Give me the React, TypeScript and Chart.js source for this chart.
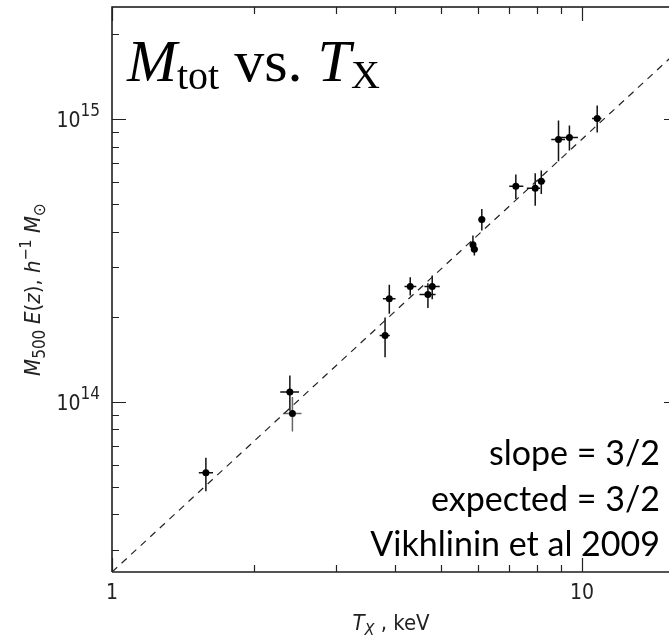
import React, { useEffect, useRef } from "react";
import { Chart, registerables } from "chart.js";

Chart.register(...registerables);

// Cluster temperatures (keV) and masses M500 E(z) (h^-1 Msun)
const tempKeV = [1.584, 2.39, 2.42, 3.81, 3.89, 4.31, 4.7, 4.8, 5.86, 5.9, 6.12, 7.23, 7.95, 8.19, 8.91, 9.4, 10.77];
const tempLo = [1.53, 2.28, 2.31, 3.71, 3.77, 4.19, 4.51, 4.62, 5.78, 5.8, 6.02, 7.0, 7.63, 8.05, 8.6, 9.0, 10.5];
const tempHi = [1.64, 2.5, 2.53, 3.9, 4.01, 4.44, 4.88, 4.98, 5.95, 6.0, 6.22, 7.5, 8.14, 8.35, 9.2, 9.8, 11.0];
const massVal = [5.61e13, 1.085e14, 9.09e13, 1.72e14, 2.32e14, 2.56e14, 2.4e14, 2.56e14, 3.6e14, 3.47e14, 4.42e14, 5.8e14, 5.71e14, 6.04e14, 8.49e14, 8.63e14, 1.008e15];
const massLo = [4.83e13, 9.3e13, 7.85e13, 1.44e14, 2.05e14, 2.38e14, 2.15e14, 2.31e14, 3.4e14, 3.3e14, 4.04e14, 5.23e14, 4.95e14, 5.45e14, 7.11e14, 7.76e14, 8.98e14];
const massHi = [6.35e13, 1.24e14, 1.04e14, 1.99e14, 2.6e14, 2.76e14, 2.63e14, 2.8e14, 3.88e14, 3.62e14, 4.82e14, 6.38e14, 6.45e14, 6.59e14, 9.92e14, 9.52e14, 1.12e15];

// Expected self-similar relation (dashed)
const fitT = [1, 16];
const fitM = [2.5e13, 1.75e15];

// Axes
const xMin = 1;
const xMax = 16;
const yMin = 2.5e13;
const yMax = 2.5e15;
const xMajorTicks = [1, 10];
const xMajorLabels = ["1", "10"];
const xMinorTicks = [2, 3, 4, 5, 6, 7, 8, 9];
const yMajorTicks = [1e14, 1e15];
const yMajorExp = ["14", "15"];
const yMinorTicks = [3e13, 4e13, 5e13, 6e13, 7e13, 8e13, 9e13, 2e14, 3e14, 4e14, 5e14, 6e14, 7e14, 8e14, 9e14, 2e15];

const noteLines = ["slope = 3/2", "expected = 3/2", "Vikhlinin et al 2009"];

const SANS = "'DejaVu Sans Condensed', 'DejaVu Sans', sans-serif";
const SERIF = "'Liberation Serif', 'DejaVu Serif', serif";

type Piece = { t: string; font: string; dy?: number };

function richWidth(ctx: CanvasRenderingContext2D, pieces: Piece[]) {
  let w = 0;
  for (const p of pieces) {
    ctx.font = p.font;
    w += ctx.measureText(p.t).width;
  }
  return w;
}

function drawRich(ctx: CanvasRenderingContext2D, pieces: Piece[], x: number, y: number) {
  let cx = x;
  for (const p of pieces) {
    ctx.font = p.font;
    ctx.fillText(p.t, cx, y + (p.dy || 0));
    cx += ctx.measureText(p.t).width;
  }
}

const decorPlugin = {
  id: "decor",
  beforeDatasetsDraw(chart: any) {
    const ctx: CanvasRenderingContext2D = chart.ctx;
    const xs = chart.scales.x;
    const ys = chart.scales.y;
    ctx.save();
    ctx.lineWidth = 1.5;
    for (let i = 0; i < tempKeV.length; i++) {
      const px = xs.getPixelForValue(tempKeV[i]);
      const py = ys.getPixelForValue(massVal[i]);
      ctx.strokeStyle = i === 2 ? "#666" : "#111";
      ctx.beginPath();
      ctx.moveTo(px, ys.getPixelForValue(massLo[i]));
      ctx.lineTo(px, ys.getPixelForValue(massHi[i]));
      ctx.moveTo(xs.getPixelForValue(tempLo[i]), py);
      ctx.lineTo(xs.getPixelForValue(tempHi[i]), py);
      ctx.stroke();
    }
    ctx.restore();
  },
  afterDraw(chart: any) {
    const ctx: CanvasRenderingContext2D = chart.ctx;
    const a = chart.chartArea;
    const xs = chart.scales.x;
    const ys = chart.scales.y;
    ctx.save();
    // frame
    ctx.lineWidth = 1.5;
    ctx.strokeStyle = "#111";
    ctx.beginPath();
    ctx.moveTo(a.left, a.bottom);
    ctx.lineTo(a.left, a.top);
    ctx.lineTo(a.right, a.top);
    ctx.lineTo(a.right, a.bottom);
    ctx.stroke();
    ctx.strokeStyle = "#555";
    ctx.lineWidth = 2;
    ctx.beginPath();
    ctx.moveTo(a.left, a.bottom);
    ctx.lineTo(a.right, a.bottom);
    ctx.stroke();

    // ticks (inward)
    ctx.strokeStyle = "#222";
    ctx.lineWidth = 1.2;
    ctx.beginPath();
    const major = 14;
    const minor = 7;
    for (const v of xMajorTicks) {
      const p = Math.round(xs.getPixelForValue(v)) + 0.5;
      ctx.moveTo(p, a.bottom); ctx.lineTo(p, a.bottom - major);
      ctx.moveTo(p, a.top); ctx.lineTo(p, a.top + major);
    }
    for (const v of xMinorTicks) {
      const p = Math.round(xs.getPixelForValue(v)) + 0.5;
      ctx.moveTo(p, a.bottom); ctx.lineTo(p, a.bottom - minor);
      ctx.moveTo(p, a.top); ctx.lineTo(p, a.top + minor);
    }
    for (const v of yMajorTicks) {
      const p = Math.round(ys.getPixelForValue(v)) + 0.5;
      ctx.moveTo(a.left, p); ctx.lineTo(a.left + major, p);
      ctx.moveTo(a.right, p); ctx.lineTo(a.right - major, p);
    }
    for (const v of yMinorTicks) {
      const p = Math.round(ys.getPixelForValue(v)) + 0.5;
      ctx.moveTo(a.left, p); ctx.lineTo(a.left + minor, p);
      ctx.moveTo(a.right, p); ctx.lineTo(a.right - minor, p);
    }
    ctx.stroke();

    // tick labels
    ctx.fillStyle = "#222";
    ctx.textBaseline = "alphabetic";
    ctx.textAlign = "left";
    xMajorTicks.forEach((v, i) => {
      const p = xs.getPixelForValue(v);
      const pieces = [{ t: xMajorLabels[i], font: `21px ${SANS}` }];
      const w = richWidth(ctx, pieces);
      drawRich(ctx, pieces, p - w / 2, a.bottom + 27);
    });
    yMajorTicks.forEach((v, i) => {
      const p = ys.getPixelForValue(v);
      const pieces = [
        { t: "10", font: `21px ${SANS}` },
        { t: yMajorExp[i], font: `17px ${SANS}`, dy: -11 },
      ];
      const w = richWidth(ctx, pieces);
      drawRich(ctx, pieces, a.left - 12 - w, p + 8);
    });

    // x title
    {
      const pieces = [
        { t: "T", font: `italic 22px ${SANS}` },
        { t: "X", font: `italic 16px ${SANS}`, dy: 5 },
        { t: " , keV", font: `22px ${SANS}` },
      ];
      const w = richWidth(ctx, pieces);
      drawRich(ctx, pieces, (a.left + a.right) / 2 - w / 2 - 4, 630);
    }
    // y title
    {
      const pieces = [
        { t: "M", font: `italic 22px ${SANS}` },
        { t: "500", font: `17px ${SANS}`, dy: 5 },
        { t: " ", font: `20px ${SANS}` },
        { t: "E", font: `italic 22px ${SANS}` },
        { t: "(", font: `22px ${SANS}` },
        { t: "z", font: `italic 22px ${SANS}` },
        { t: "), ", font: `22px ${SANS}` },
        { t: "h", font: `italic 22px ${SANS}` },
        { t: "\u22121", font: `16px ${SANS}`, dy: -9 },
        { t: " ", font: `22px ${SANS}` },
        { t: "M", font: `italic 22px ${SANS}` },
        { t: "\u2299", font: `17px ${SANS}`, dy: 5 },
      ];
      const w = richWidth(ctx, pieces);
      ctx.save();
      ctx.translate(40, (a.top + a.bottom) / 2);
      ctx.rotate(-Math.PI / 2);
      drawRich(ctx, pieces, -w / 2, 0);
      ctx.restore();
    }

    // big title
    ctx.fillStyle = "#000";
    drawRich(
      ctx,
      [
        { t: "M", font: `italic 60px ${SERIF}` },
        { t: "tot", font: `40px ${SERIF}`, dy: 8 },
        { t: " vs. ", font: `60px ${SERIF}` },
        { t: "T", font: `italic 60px ${SERIF}` },
        { t: "X", font: `40px ${SERIF}`, dy: 7 },
      ],
      127,
      81
    );

    // annotation
    ctx.textAlign = "right";
    ctx.font = `34px Lato, 'Open Sans', sans-serif`;
    const baselines = [465, 511, 556];
    noteLines.forEach((s, i) => ctx.fillText(s, 660, baselines[i]));
    ctx.restore();
  },
};

export default function App() {
  const ref = useRef<HTMLCanvasElement | null>(null);
  useEffect(() => {
    if (!ref.current) return;
    const chart = new Chart(ref.current, {
      type: "scatter",
      data: {
        datasets: [
          {
            type: "line",
            label: "fit",
            data: fitT.map((t, i) => ({ x: t, y: fitM[i] })),
            borderColor: "#222",
            borderWidth: 1.2,
            borderDash: [7, 6],
            pointRadius: 0,
            fill: false,
            order: 2,
          } as any,
          {
            label: "clusters",
            data: tempKeV.map((t, i) => ({ x: t, y: massVal[i] })),
            backgroundColor: "#000",
            borderColor: "#000",
            pointRadius: 3.5,
            borderWidth: 0,
            order: 1,
          },
        ],
      },
      options: {
        animation: false,
        responsive: false,
        maintainAspectRatio: false,
        layout: { padding: { left: 112, top: 7, right: 12, bottom: 65 } },
        plugins: { legend: { display: false }, tooltip: { enabled: false } },
        scales: {
          x: { type: "logarithmic", min: xMin, max: xMax, display: false },
          y: { type: "logarithmic", min: yMin, max: yMax, display: false },
        },
      },
      plugins: [decorPlugin],
    });
    return () => chart.destroy();
  }, []);
  return (
    <div style={{ position: "fixed", left: 0, top: 0, width: 669, height: 637, overflow: "hidden", background: "#fff" }}>
      <canvas ref={ref} width={690} height={637} style={{ width: 690, height: 637, display: "block" }} />
    </div>
  );
}
